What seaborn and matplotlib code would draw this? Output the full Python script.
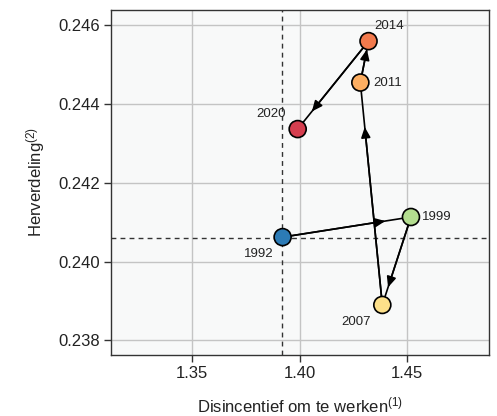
import numpy as np
import pandas as pd
import matplotlib
matplotlib.use("Agg")
import matplotlib.pyplot as plt
import seaborn as sns

# data
years = ["1992", "1999", "2007", "2011", "2014", "2020"]
disincentive = [1.3921, 1.4517, 1.4384, 1.4282, 1.4320, 1.3991]
redistribution = [0.24062, 0.24113, 0.23890, 0.24454, 0.24559, 0.24336]
point_colors = ["#2c7bb6", "#b3dd8f", "#fde08a", "#fdae61", "#f27a4d", "#d53e4f"]
ref_x = 1.392
ref_y = 0.2406
x_ticks = [1.35, 1.40, 1.45]
y_ticks = [0.238, 0.240, 0.242, 0.244, 0.246]

# label offsets in points (dx, dy, ha)
label_pos = {
    "1992": (-17, -12, "center"),
    "1999": (8, 0, "left"),
    "2007": (-19, -12, "center"),
    "2011": (9, 0, "left"),
    "2014": (15, 11, "center"),
    "2020": (-19, 11, "center"),
}

df = pd.DataFrame({"year": years, "x": disincentive, "y": redistribution})

sns.set_theme(style="whitegrid")
plt.rcParams["font.family"] = ["Liberation Sans", "DejaVu Sans"]
plt.rcParams["mathtext.fontset"] = "custom"
plt.rcParams["mathtext.rm"] = "Liberation Sans"
plt.rcParams["mathtext.it"] = "Liberation Sans:italic"

fig = plt.figure(figsize=(4.97, 4.16), dpi=100)
ax = fig.add_axes([0.2233, 0.1466, 0.76, 0.8294])
ax.set_facecolor("#f8f9f9")

# reference lines
ax.axvline(ref_x, color="#333333", lw=1.0, ls=(0, (3.5, 3)), zorder=1)
ax.axhline(ref_y, color="#333333", lw=1.0, ls=(0, (3.5, 3)), zorder=1)

# connecting lines with arrowheads at ~80% of each segment
for i in range(len(years) - 1):
    x0, y0 = disincentive[i], redistribution[i]
    x1, y1 = disincentive[i + 1], redistribution[i + 1]
    ax.plot([x0, x1], [y0, y1], color="black", lw=1.2, zorder=2)
    xm = x0 + 0.8 * (x1 - x0)
    ym = y0 + 0.8 * (y1 - y0)
    ax.annotate("", xy=(xm, ym), xytext=(x0, y0),
                arrowprops=dict(arrowstyle="-|>,head_length=0.45,head_width=0.2",
                                color="black", lw=1.2,
                                mutation_scale=14, shrinkA=0, shrinkB=0),
                zorder=2)

sns.scatterplot(data=df, x="x", y="y", hue="year", palette=point_colors,
                s=150, edgecolor="black", linewidth=1.2, legend=False,
                zorder=3, ax=ax)

for yr, xv, yv in zip(years, disincentive, redistribution):
    dx, dy, ha = label_pos[yr]
    ax.annotate(yr, xy=(xv, yv), xytext=(dx, dy), textcoords="offset points",
                ha=ha, va="center", fontsize=9.5, color="#222222", zorder=4)

ax.set_xlim(1.3124, 1.4878)
ax.set_ylim(0.23763, 0.24638)
ax.set_xticks(x_ticks)
ax.set_xticklabels(["%.2f" % v for v in x_ticks])
ax.set_yticks(y_ticks)
ax.set_yticklabels(["%.3f" % v for v in y_ticks])

ax.grid(True, color="#c4c4c4", lw=1.0)
for side in ["top", "bottom", "left", "right"]:
    ax.spines[side].set_color("#333333")
    ax.spines[side].set_linewidth(1.0)
ax.tick_params(axis="both", which="major", direction="out", length=5, width=1,
               color="#333333", labelsize=12, labelcolor="#222222", pad=3,
               bottom=True, left=True)

ax.set_xlabel(r"Disincentief om te werken$^{(1)}$", fontsize=12, color="#222222", labelpad=10)
ax.set_ylabel(r"Herverdeling$^{(2)}$", fontsize=12, color="#222222", labelpad=8)

fig.savefig("out.png", dpi=100)
